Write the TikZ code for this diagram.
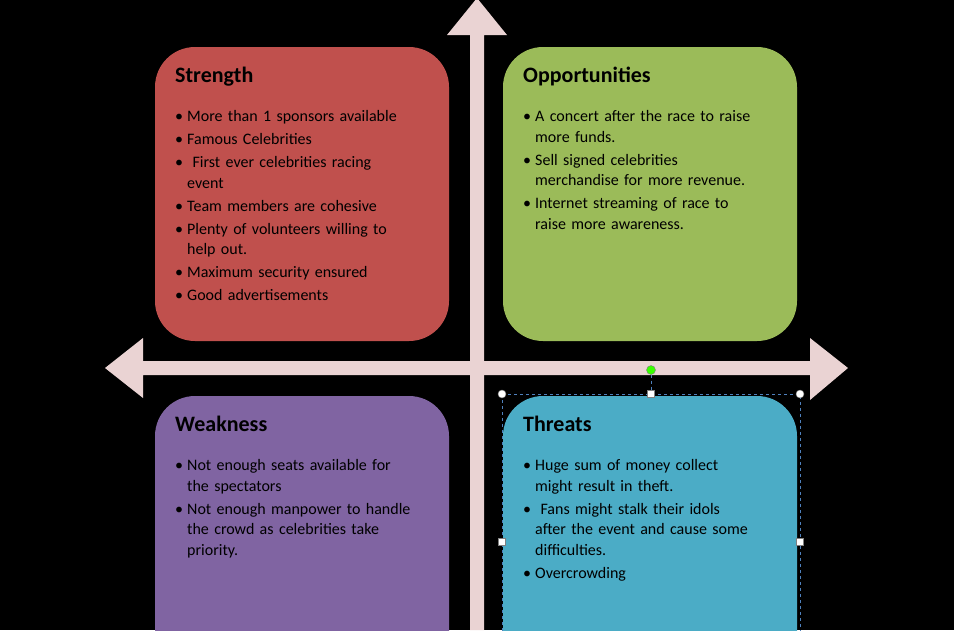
\documentclass[tikz,border=0pt]{standalone}
\usepackage{fontspec}
\setmainfont{Carlito}
\definecolor{cred}{HTML}{C0504D}
\definecolor{cgreen}{HTML}{9BBB59}
\definecolor{cpurple}{HTML}{8064A2}
\definecolor{cteal}{HTML}{4BACC6}
\definecolor{carrow}{HTML}{EAD3D3}
\definecolor{csel}{HTML}{4F81BD}
\newcommand{\bul}[1]{\par\hangindent=12pt\hangafter=1\makebox[12pt][l]{\textbullet}#1\par\vspace{2.5pt}}
\tikzset{
  quad/.style={rounded corners=40pt},
  title/.style={anchor=north west,inner sep=0pt,font=\fontsize{22}{24}\selectfont\bfseries},
  body/.style={anchor=north west,inner sep=0pt,text width=270pt,align=left,font=\fontsize{16}{20.5}\selectfont},
  handle/.style={circle,draw=gray,fill=white,inner sep=0pt,minimum size=8pt},
  sq/.style={rectangle,draw=gray,fill=white,inner sep=0pt,minimum size=7pt},
}
\begin{document}
\begin{tikzpicture}[x=1pt,y=-1pt]
\fill[black] (0,0) rectangle (954,630);
\useasboundingbox (0,0) rectangle (954,630);
% boxes
\fill[cred,quad] (155,47) rectangle (449,341);
\fill[cgreen,quad] (503,47) rectangle (797,341);
\fill[cpurple,quad] (155,396) rectangle (449,700);
\fill[cteal,quad] (503,396) rectangle (797,700);
% arrows
\fill[carrow] (470,630) -- (470,35) -- (447,35) -- (477,-2) -- (507,35) -- (484,35) -- (484,630) -- cycle;
\fill[carrow] (143,361) -- (810,361) -- (810,338) -- (848,368) -- (810,400) -- (810,375) -- (143,375) -- (143,398) -- (105,368) -- (143,338) -- cycle;
% texts
\node[title] (st) at (175,67) {Strength};
\node[body] (sb) at (175,101) {\bul{More than 1 sponsors available}\bul{Famous Celebrities}\bul{ First ever celebrities racing\newline event}\bul{Team members are cohesive}\bul{Plenty of volunteers willing to\newline help out.}\bul{Maximum security ensured}\bul{Good advertisements}};
\node[title] (ot) at (523,67) {Opportunities};
\node[body] (ob) at (523,101) {\bul{A concert after the race to raise\newline more funds.}\bul{Sell signed celebrities\newline merchandise for more revenue.}\bul{Internet streaming of race to\newline raise more awareness.}};
\node[title] (wt) at (175,416) {Weakness};
\node[body] (wb) at (175,450) {\bul{Not enough seats available for\newline the spectators}\bul{Not enough manpower to handle\newline the crowd as celebrities take\newline priority.}};
\node[title] (tt) at (523,416) {Threats};
\node[body] (tb) at (523,450) {\bul{Huge sum of money collect\newline might result in theft.}\bul{ Fans might stalk their idols\newline after the event and cause some\newline difficulties.}\bul{Overcrowding}};
% selection
\draw[csel,dashed,thin] (502,394) -- (800,394) -- (800,640) (502,394) -- (502,640);
\node[circle,draw=gray,fill=green!70!lime,inner sep=0pt,minimum size=9pt] (rot) at (651,370) {};
\node[sq] (hm) at (651,394) {};
\draw[csel,dashed,thin] (rot) -- (hm);
\node[handle] (h1) at (502,394) {};
\node[handle] (h2) at (800,394) {};
\node[sq] (h3) at (502,542) {};
\node[sq] (h4) at (800,542) {};
\end{tikzpicture}
\end{document}
